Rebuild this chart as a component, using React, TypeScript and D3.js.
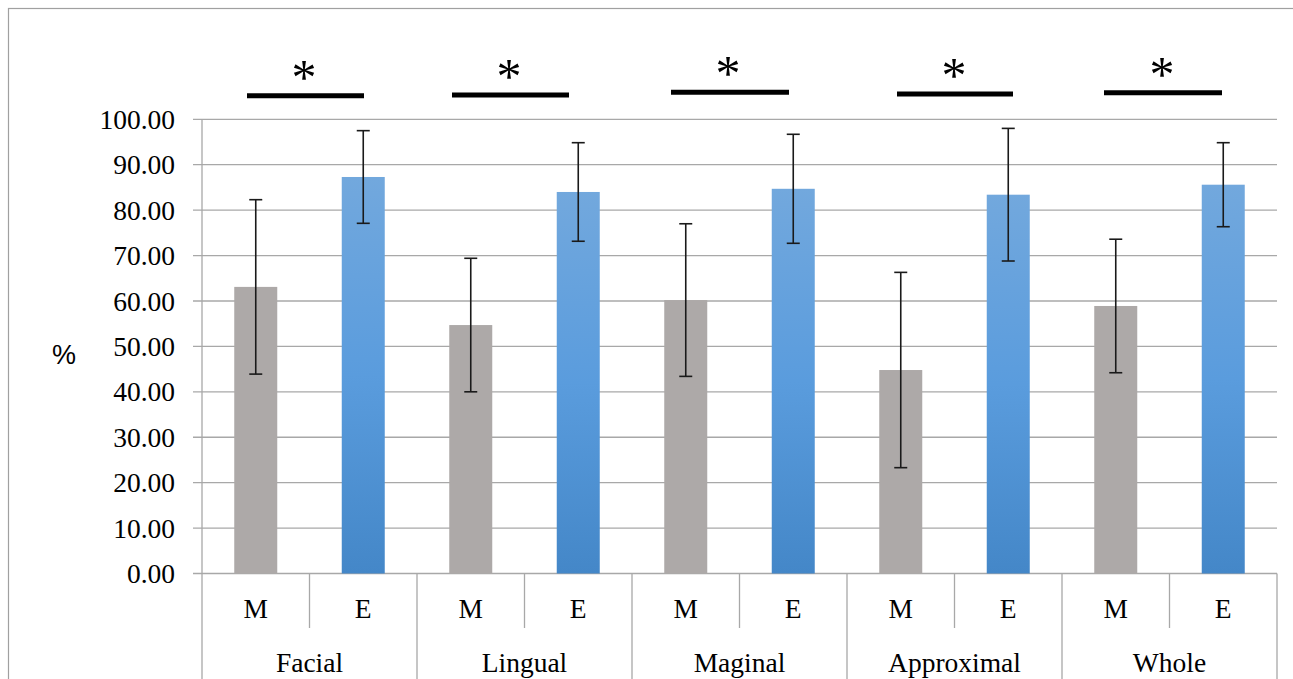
import React from "react";
import * as d3 from "d3";

const categories = ["Facial", "Lingual", "Maginal", "Approximal", "Whole"];
const groups = ["M", "E"];
const meanM = [63.1, 54.7, 60.2, 44.8, 58.9];
const sdM = [19.2, 14.7, 16.8, 21.5, 14.7];
const meanE = [87.3, 84.0, 84.7, 83.4, 85.6];
const sdE = [10.2, 10.85, 12.0, 14.6, 9.25];
const yTicks = [0, 10, 20, 30, 40, 50, 60, 70, 80, 90, 100];
const sigLabels = ["*", "*", "*", "*", "*"];

// annotation layout (pixel offsets relative to category start)
const sigBarOffset = [[45, 162, 95.8], [35, 152, 95], [39, 157, 92.3], [50, 166, 94], [42, 160, 92.7]];
const sigStarOffset = [102, 92, 96, 107, 100];

const W = 1293;
const H = 679;
const serif = "'Liberation Serif', 'Times New Roman', serif";

export default function App() {
  const x = d3.scaleBand<string>().domain(categories).range([202, 1277]).padding(0);
  const xs = d3.scaleBand<string>().domain(groups).range([0, x.bandwidth()]).paddingInner(0.6).paddingOuter(0.3);
  const y = d3.scaleLinear().domain([0, 100]).range([573.5, 119.3]);
  const fmt = d3.format(".2f");
  const gridColor = "#A8A8A8";

  const series = [
    { key: "M", mean: meanM, sd: sdM, fill: "#ADA9A8" },
    { key: "E", mean: meanE, sd: sdE, fill: "url(#blueGrad)" },
  ];

  return (
    <svg width={W} height={H} style={{ position: "absolute", left: 0, top: 0, background: "#fff" }}>
      <defs>
        <linearGradient id="blueGrad" x1="0" y1="0" x2="0" y2="1">
          <stop offset="0%" stopColor="#72A8DD" />
          <stop offset="50%" stopColor="#5A9CDD" />
          <stop offset="100%" stopColor="#4487C8" />
        </linearGradient>
      </defs>
      <rect x={8.5} y={8.5} width={1400} height={1000} fill="none" stroke="#A0A0A0" strokeWidth={1.2} />

      {/* gridlines + ticks */}
      {yTicks.map((t) => (
        <g key={t}>
          <line x1={193} x2={1277} y1={y(t)} y2={y(t)} stroke={gridColor} strokeWidth={1.3} />
          <text x={175} y={y(t)} dy="0.35em" textAnchor="end" fontFamily={serif} fontSize={27.5} fill="#000">
            {fmt(t)}
          </text>
        </g>
      ))}
      <line x1={202} x2={202} y1={y(100)} y2={H} stroke={gridColor} strokeWidth={1.3} />

      {/* category separators */}
      {categories.map((c) => (
        <g key={c}>
          <line x1={x(c)! + x.bandwidth()} x2={x(c)! + x.bandwidth()} y1={y(0)} y2={H} stroke={gridColor} strokeWidth={1.3} />
          <line x1={x(c)! + x.bandwidth() / 2} x2={x(c)! + x.bandwidth() / 2} y1={y(0)} y2={628} stroke={gridColor} strokeWidth={1.3} />
          {groups.map((g) => (
            <text key={g} x={x(c)! + xs(g)! + xs.bandwidth() / 2} y={618} textAnchor="middle" fontFamily={serif} fontSize={27.5} fill="#000">
              {g}
            </text>
          ))}
          <text x={x(c)! + x.bandwidth() / 2} y={672} textAnchor="middle" fontFamily={serif} fontSize={27.5} fill="#000">
            {c}
          </text>
        </g>
      ))}

      {/* bars */}
      {series.map((s) =>
        categories.map((c, i) => {
          const bx = x(c)! + xs(s.key)!;
          return (
            <rect key={s.key + c} x={bx} y={y(s.mean[i])} width={xs.bandwidth()} height={y(0) - y(s.mean[i])} fill={s.fill} />
          );
        })
      )}

      {/* error bars */}
      {series.map((s) =>
        categories.map((c, i) => {
          const cx = x(c)! + xs(s.key)! + xs.bandwidth() / 2;
          const top = y(s.mean[i] + s.sd[i]);
          const bot = y(s.mean[i] - s.sd[i]);
          return (
            <g key={"e" + s.key + c} stroke="#1A1A1A" strokeWidth={1.6}>
              <line x1={cx} x2={cx} y1={top} y2={bot} />
              <line x1={cx - 6.5} x2={cx + 6.5} y1={top} y2={top} />
              <line x1={cx - 6.5} x2={cx + 6.5} y1={bot} y2={bot} />
            </g>
          );
        })
      )}

      {/* significance annotations */}
      {categories.map((c, i) => {
        const x0 = x(c)!;
        const [a, b, yy] = sigBarOffset[i];
        return (
          <g key={"sig" + c}>
            <line x1={x0 + a} x2={x0 + b} y1={yy} y2={yy} stroke="#000" strokeWidth={5} />
            <text x={x0 + sigStarOffset[i]} y={yy - 2} textAnchor="middle" fontFamily={serif} fontSize={50} fill="#000">
              {sigLabels[i]}
            </text>
          </g>
        );
      })}

      <text x={64} y={364} textAnchor="middle" fontFamily="'Liberation Sans', Arial, sans-serif" fontSize={27} fill="#000">
        %
      </text>
    </svg>
  );
}
